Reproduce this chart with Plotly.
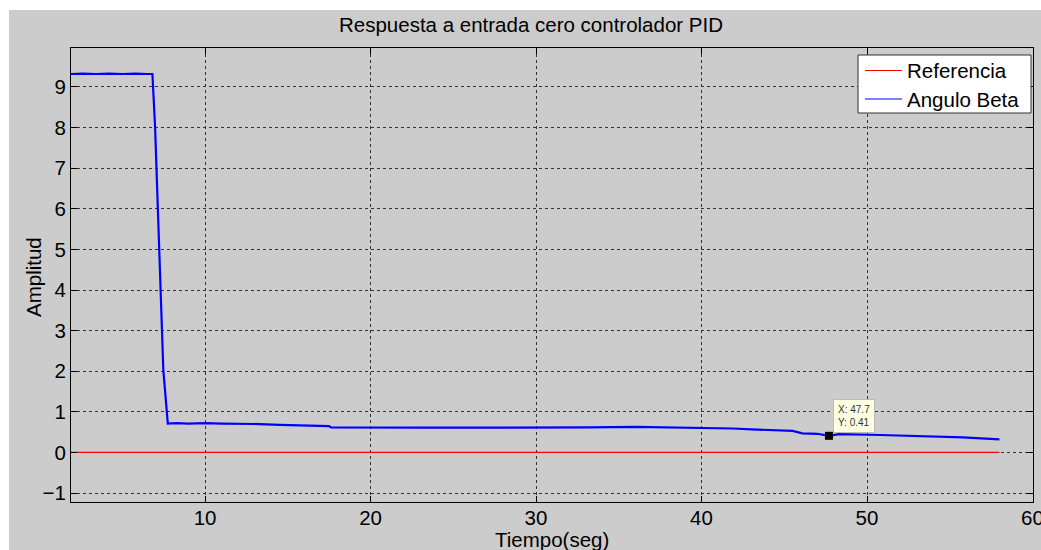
import plotly.graph_objects as go

# Data
t_beta = [1.9, 2.6, 3.4, 4.2, 5.0, 5.8, 6.5, 6.82, 6.98, 7.24, 7.48, 7.75, 8.3, 9.0, 10.0, 11.0, 12.0, 13.3,
          14.5, 15.7, 16.6, 17.5, 17.6, 20.0, 23.0, 26.0, 30.0, 33.2, 36.0, 38.0, 40.0, 41.9, 43.0,
          44.5, 45.5, 46.1, 47.0, 47.7, 48.3, 50.8, 53.0, 55.8, 58.0]
y_beta = [9.32, 9.33, 9.32, 9.33, 9.32, 9.33, 9.32, 9.32, 8.02, 4.98, 2.02, 0.71, 0.72, 0.71, 0.72, 0.71, 0.71, 0.70,
          0.68, 0.665, 0.66, 0.65, 0.62, 0.61, 0.61, 0.61, 0.61, 0.62, 0.63, 0.62, 0.61, 0.59, 0.57,
          0.55, 0.53, 0.47, 0.46, 0.41, 0.45, 0.43, 0.41, 0.37, 0.32]
t_ref = [1.9, 58.0]
y_ref = [0, 0]
tip_x = [47.7]
tip_y = [0.41]
x_ticks = [10, 20, 30, 40, 50, 60]
y_ticks = [-1, 0, 1, 2, 3, 4, 5, 6, 7, 8, 9]
legend_names = ["Referencia", "Angulo Beta"]
legend_colors = ["#ff0000", "#0000ff"]

FONT = "Liberation Sans, Arial, sans-serif"
FS = 20.5

W, H = 1041, 550
L, R, T, B = 71, 8, 48, 48
pw, ph = W - L - R, H - T - B


def px(xp):
    return (xp - L) / pw


def py(yp):
    return (H - B - yp) / ph


fig = go.Figure()
fig.add_trace(go.Scatter(x=t_ref, y=y_ref, mode="lines", name=legend_names[0],
                         line=dict(color=legend_colors[0], width=1.2)))
fig.add_trace(go.Scatter(x=t_beta, y=y_beta, mode="lines", name=legend_names[1],
                         line=dict(color=legend_colors[1], width=2.2)))
fig.add_trace(go.Scatter(x=tip_x, y=tip_y, mode="markers",
                         marker=dict(color="black", size=8, symbol="square")))

fig.add_annotation(x=tip_x[0], y=tip_y[0], xref="x", yref="y",
                   text="X: %.1f<br>Y: %.2f" % (tip_x[0], tip_y[0]),
                   showarrow=False, xanchor="left", yanchor="bottom", xshift=4, yshift=3,
                   align="left", font=dict(family=FONT, size=10, color="#333"),
                   bgcolor="#ffffe1", bordercolor="#bbbbbb", borderwidth=1, borderpad=4)

# gray figure background (MATLAB style)
fig.add_shape(type="rect", xref="paper", yref="paper", layer="below",
              x0=px(9), x1=px(W), y0=py(H), y1=py(10),
              fillcolor="#cccccc", line=dict(width=0))

# MATLAB-style legend box
fig.add_shape(type="rect", xref="paper", yref="paper", layer="above",
              x0=px(858), x1=px(1031), y0=py(113), y1=py(55),
              fillcolor="white", line=dict(color="#333333", width=1))
for i, (nm, col) in enumerate(zip(legend_names, legend_colors)):
    yc = 70.5 + i * 28.5
    fig.add_shape(type="line", xref="paper", yref="paper", layer="above",
                  x0=px(865), x1=px(902), y0=py(yc), y1=py(yc),
                  line=dict(color=col, width=1.2))
    fig.add_annotation(x=px(905), y=py(yc), xref="paper", yref="paper", text=nm,
                       showarrow=False, xanchor="left", yanchor="middle",
                       font=dict(family=FONT, size=FS, color="black"))

axis_common = dict(showline=True, linecolor="black", linewidth=1, mirror="ticks",
                   ticks="inside", ticklen=6, tickcolor="black", automargin=False,
                   ticklabeloverflow="allow",
                   showgrid=True, gridcolor="#333333", gridwidth=1, griddash="3px,3px",
                   zeroline=False, tickfont=dict(family=FONT, size=FS, color="black"))

fig.update_xaxes(range=[1.9, 60.03], tickvals=x_ticks, ticklabelstandoff=-3, **axis_common)
fig.update_yaxes(range=[-1.22, 9.96], tickvals=y_ticks, **axis_common)

# axis titles
fig.add_annotation(x=px(552), y=py(539), xref="paper", yref="paper", text="Tiempo(seg)",
                   showarrow=False, xanchor="center", yanchor="middle",
                   font=dict(family=FONT, size=FS, color="black"))
fig.add_annotation(x=px(33), y=py(277), xref="paper", yref="paper", text="Amplitud",
                   showarrow=False, xanchor="center", yanchor="middle", textangle=-90,
                   font=dict(family=FONT, size=FS, color="black"))

fig.update_layout(
    width=W, height=H,
    margin=dict(l=L, r=R, t=T, b=B, autoexpand=False),
    paper_bgcolor="white", plot_bgcolor="white",
    title=dict(text="Respuesta a entrada cero controlador PID", x=531 / W, xanchor="center",
               y=1 - 25 / H, yanchor="middle", font=dict(family=FONT, size=FS, color="black"),
               automargin=False),
    showlegend=False,
)

fig.write_html("out.html", config={"displayModeBar": False},
               post_script="document.body.style.margin='0';document.body.style.overflow='hidden';")
